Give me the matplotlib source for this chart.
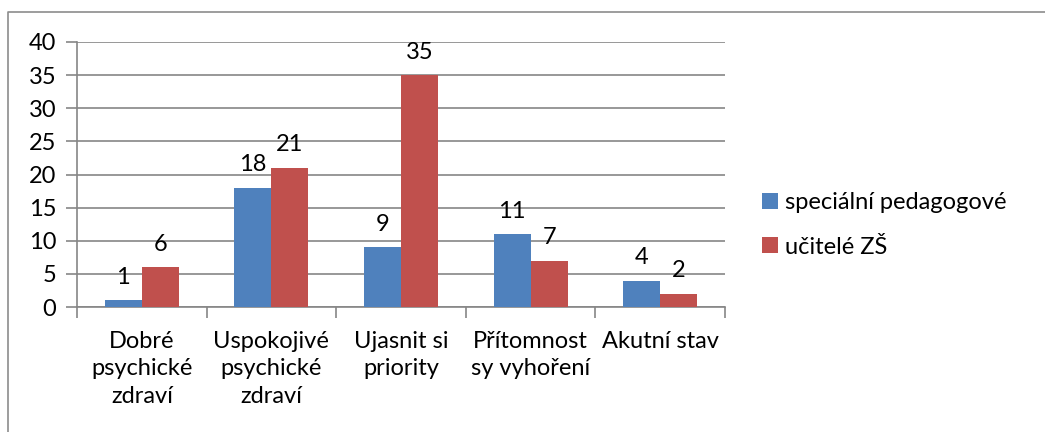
import numpy as np
import matplotlib.pyplot as plt
from matplotlib.lines import Line2D

categories = ["Dobré\npsychické\nzdraví", "Uspokojivé\npsychické\nzdraví", "Ujasnit si\npriority",
              "Přítomnost\nsy vyhoření", "Akutní stav"]
special = [1, 18, 9, 11, 4]
teachers = [6, 21, 35, 7, 2]
series_names = ["speciální pedagogové", "učitelé ZŠ"]

plt.rcParams["font.family"] = ["Lato", "DejaVu Sans"]
grid_col = "#868686"
fs = 17

fig = plt.figure(figsize=(10.45, 4.32), dpi=100)
# outer chart border (only top and left edges are inside the picture)
border_x = [7.5 / 1045, 7.5 / 1045, 1.0]
border_y = [0.0, 1 - 12 / 432, 1 - 12 / 432]
fig.lines.append(Line2D(border_x, border_y, transform=fig.transFigure, color="#8c8c8c", linewidth=1.2))

ax = fig.add_axes([77 / 1045, 1 - 307 / 432, 648 / 1045, 265 / 432])

x = np.arange(len(categories))
w = 1 / 3.5
b1 = ax.bar(x - w / 2, special, w, color="#4F81BD", label=series_names[0], zorder=3)
b2 = ax.bar(x + w / 2, teachers, w, color="#C0504D", label=series_names[1], zorder=3)
for bars in (b1, b2):
    ax.bar_label(bars, padding=9, fontsize=fs)

ax.set_xlim(-0.5, len(categories) - 0.5)
ax.set_ylim(0, 40)
ax.set_yticks(range(0, 41, 5))
ax.yaxis.grid(True, color=grid_col, linewidth=1.2)
ax.set_axisbelow(True)
for s in ["top", "right"]:
    ax.spines[s].set_visible(False)
for s in ["left", "bottom"]:
    ax.spines[s].set_color(grid_col)
    ax.spines[s].set_linewidth(1.2)

ax.set_xticks(np.arange(len(categories) + 1) - 0.5, minor=False)
ax.set_xticklabels([])
ax.set_xticks(x, minor=True)
ax.set_xticklabels(categories, minor=True, fontsize=fs, linespacing=1.4)
ax.tick_params(axis="x", which="major", length=8, color=grid_col, width=1.2)
ax.tick_params(axis="x", which="minor", length=0, pad=17)
ax.tick_params(axis="y", length=8, color=grid_col, width=1.2, labelsize=fs, pad=7)

ax.legend(loc="center left", bbox_to_anchor=(1.025, 0.31), frameon=False, fontsize=fs,
          handlelength=0.65, handleheight=0.65, handletextpad=0.3, labelspacing=1.0)

fig.savefig("out.png", dpi=100)
